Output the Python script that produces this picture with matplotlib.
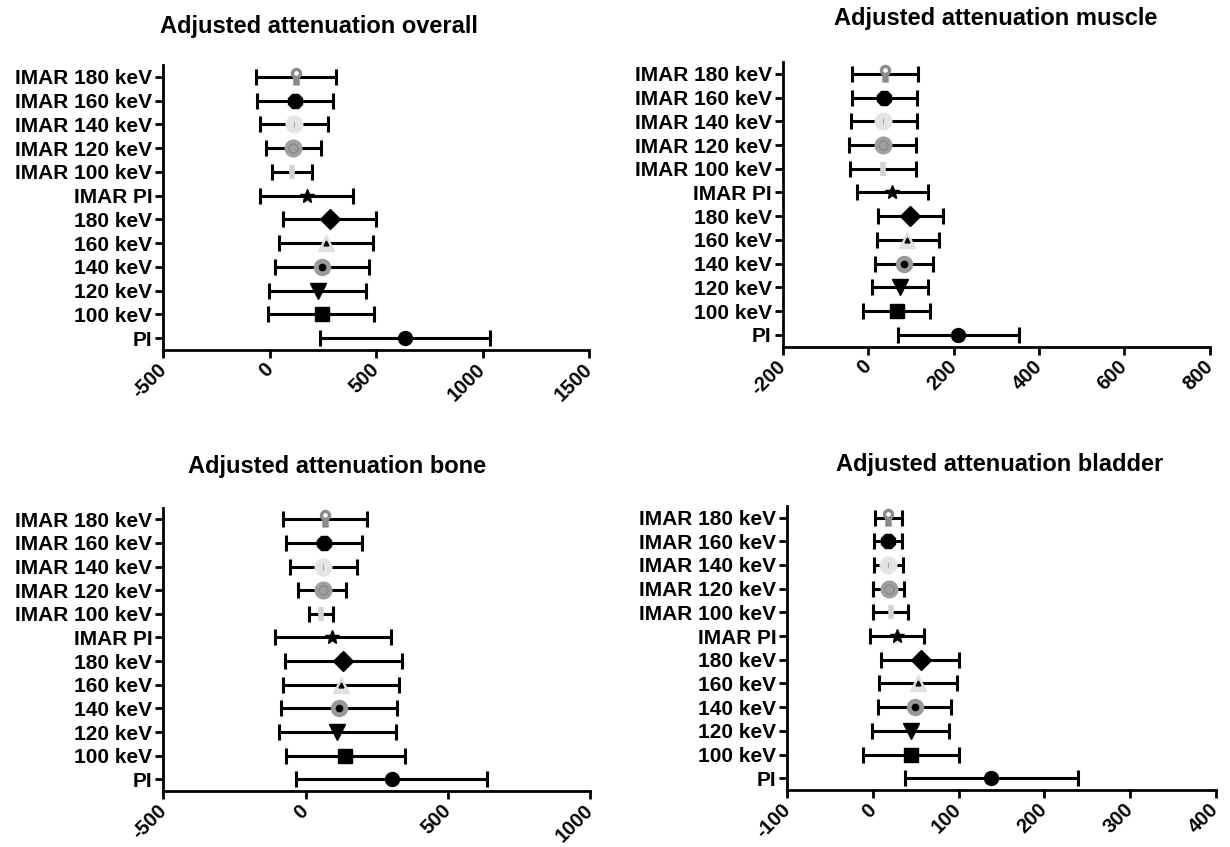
import numpy as np
import matplotlib
matplotlib.use("Agg")
import matplotlib.pyplot as plt
from matplotlib.path import Path

plt.rcParams['font.family'] = ['Liberation Sans', 'DejaVu Sans']
plt.rcParams['font.weight'] = 'bold'

# Categories from bottom to top
categories = ["PI", "100 keV", "120 keV", "140 keV", "160 keV", "180 keV",
              "IMAR PI", "IMAR 100 keV", "IMAR 120 keV", "IMAR 140 keV",
              "IMAR 160 keV", "IMAR 180 keV"]

# Adjusted attenuation overall
overall_mean = [636, 244, 225, 245, 266, 281, 173, 105, 111, 114, 119, 122]
overall_low = [234, -6, -3, 25, 42, 63, -44, 9, -17, -44, -58, -66]
overall_high = [1036, 489, 453, 467, 486, 500, 392, 197, 242, 273, 297, 313]

# Adjusted attenuation muscle
muscle_mean = [211, 68, 74, 84, 92, 98, 56, 34, 35, 36, 38, 39]
muscle_low = [69, -11, 9, 17, 21, 22, -26, -43, -44, -40, -38, -38]
muscle_high = [353, 146, 139, 151, 165, 175, 140, 111, 112, 114, 115, 117]

# Adjusted attenuation bone
bone_mean = [304, 139, 112, 118, 125, 132, 94, 53, 60, 63, 66, 68]
bone_low = [-32, -69, -92, -85, -78, -71, -109, 11, -27, -53, -68, -78]
bone_high = [638, 349, 317, 322, 330, 340, 301, 95, 143, 181, 199, 217]

# Adjusted attenuation bladder
bladder_mean = [138, 44.4, 44, 49.5, 52.5, 55.6, 27.6, 20.6, 19, 18, 17.5, 17.5]
bladder_low = [37, -12, -0.7, 5.5, 7, 9.7, -3.5, 0.5, 0.5, 1, 1.6, 2]
bladder_high = [239, 100, 89, 91.5, 97.7, 100, 59.5, 41, 36.6, 35, 34, 34]

titles = ["Adjusted attenuation overall", "Adjusted attenuation muscle",
          "Adjusted attenuation bone", "Adjusted attenuation bladder"]
xlims = [(-500, 1500), (-200, 800), (-500, 1000), (-100, 400)]
xticks = [[-500, 0, 500, 1000, 1500], [-200, 0, 200, 400, 600, 800],
          [-500, 0, 500, 1000], [-100, 0, 100, 200, 300, 400]]


def keyhole_path():
    circ = Path.unit_circle()
    ov = circ.vertices * 0.42 + np.array([0, 0.3])
    iv = (circ.vertices * 0.17 + np.array([0, 0.3]))[::-1]
    rect = np.array([[-0.24, -0.6], [0.24, -0.6], [0.24, 0.0], [-0.24, 0.0], [-0.24, -0.6]])
    verts = np.concatenate([ov, iv, rect])
    codes = np.concatenate([circ.codes, circ.codes,
                            [Path.MOVETO, Path.LINETO, Path.LINETO, Path.LINETO, Path.CLOSEPOLY]])
    return Path(verts, codes)


KEY = keyhole_path()


def draw_marker(ax, x, y, idx):
    z = 5
    if idx == 0:  # PI
        ax.plot(x, y, 'o', ms=10, color='black', zorder=z)
    elif idx == 1:  # 100 keV
        ax.plot(x, y, 's', ms=10.5, color='black', zorder=z)
    elif idx == 2:  # 120 keV
        ax.plot(x, y, 'v', ms=11, color='black', zorder=z)
    elif idx == 3:  # 140 keV
        ax.plot(x, y, 'o', ms=11.5, color='#9a9a9a', zorder=z)
        ax.plot(x, y, 'o', ms=4.5, color='black', zorder=z + 1)
    elif idx == 4:  # 160 keV
        ax.plot(x, y, '^', ms=12, color='#e0e0e0', zorder=z)
        ax.plot(x, y, '^', ms=3.5, color='black', zorder=z + 1)
    elif idx == 5:  # 180 keV
        ax.plot(x, y, 'D', ms=10, color='black', zorder=z)
    elif idx == 6:  # IMAR PI
        ax.plot(x, y, '*', ms=10, color='black', zorder=z)
    elif idx == 7:  # IMAR 100
        ax.plot(x, y, '|', ms=10, mew=4, color='#d4d4d4', zorder=z)
    elif idx == 8:  # IMAR 120
        ax.plot(x, y, 'o', ms=12, color='#a0a0a0', zorder=z)
        ax.plot(x, y, 'o', ms=6.5, mfc='none', mec='#888888', mew=1, zorder=z + 1)
    elif idx == 9:  # IMAR 140
        ax.plot(x, y, 'o', ms=12, color='#e4e4e4', zorder=z)
        ax.plot(x, y, '|', ms=4, mew=0.8, color='#aaaaaa', zorder=z + 1)
    elif idx == 10:  # IMAR 160
        ax.plot(x, y, '8', ms=11.5, color='black', zorder=z)
    elif idx == 11:  # IMAR 180
        ax.plot(x, y, marker=KEY, ms=14, color='#8a8a8a', mec='none', ls='none', zorder=z)


fig = plt.figure(figsize=(12.3, 8.47), dpi=100)

positions = [
    [0.1328, 0.5868, 0.3461, 0.3365],
    [0.6363, 0.5907, 0.3474, 0.3361],
    [0.1328, 0.0660, 0.3469, 0.3348],
    [0.6401, 0.0672, 0.3483, 0.3358],
]
title_pos = [(319 / 1230, 1 - 26 / 847), (996 / 1230, 1 - 19 / 847),
             (337 / 1230, 1 - 466 / 847), (1000 / 1230, 1 - 464 / 847)]

data = [(overall_mean, overall_low, overall_high),
        (muscle_mean, muscle_low, muscle_high),
        (bone_mean, bone_low, bone_high),
        (bladder_mean, bladder_low, bladder_high)]

for k in range(4):
    ax = fig.add_axes(positions[k])
    mean, lo, hi = [np.array(a, dtype=float) for a in data[k]]
    ypos = np.arange(len(categories))
    ax.errorbar(mean, ypos, xerr=[mean - lo, hi - mean], fmt='none',
                ecolor='black', elinewidth=2.2, capsize=5.5, capthick=2.2, zorder=3)
    for i in range(len(categories)):
        draw_marker(ax, mean[i], ypos[i], i)
    ax.set_ylim(-0.5, len(categories) - 0.5)
    ax.set_xlim(*xlims[k])
    ax.set_yticks(ypos)
    ax.set_yticklabels(categories, fontsize=15, fontweight='bold')
    ax.set_xticks(xticks[k])
    ax.set_xticklabels([str(t) for t in xticks[k]], fontsize=14.5, fontweight='bold',
                       rotation=45, ha='right', va='center', rotation_mode='anchor')
    for s in ['top', 'right']:
        ax.spines[s].set_visible(False)
    for s in ['left', 'bottom']:
        ax.spines[s].set_linewidth(2)
    ax.tick_params(axis='both', width=2, length=6, direction='out', pad=2)
    ax.tick_params(axis='x', pad=6)
    fig.text(title_pos[k][0], title_pos[k][1], titles[k], ha='center', va='center',
             fontsize=17, fontweight='bold')

fig.savefig("out.png", dpi=100)
